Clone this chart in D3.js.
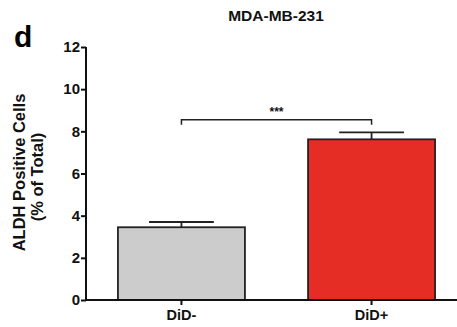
<!DOCTYPE html>
<html>
<head>
<meta charset="utf-8">
<script src="https://cdn.jsdelivr.net/npm/d3@7"></script>
<style>
  body { margin: 0; background: #fff; }
  svg { font-family: "Liberation Sans", Arial, sans-serif; font-weight: bold; }
  .axis text { font-size: 15px; font-weight: bold; fill: #111; }
  .axis path, .axis line { stroke: #111; stroke-width: 2; }
</style>
</head>
<body>
<svg id="chart" width="457" height="327"></svg>
<script>
// data
const groups = ['DiD-', 'DiD+'];
const means = [3.45, 7.62];
const errors = [0.25, 0.33];
const barColors = ['#cccccc', '#e52d25'];
const yTicks = [0, 2, 4, 6, 8, 10, 12];
const sigLevel = 8.55;
const sigLabel = '***';

const svg = d3.select('#chart');
const plotLeft = 86, axisRight = 457, plotTop = 47, plotBottom = 300;

const y = d3.scaleLinear().domain([0, 12]).range([plotBottom, plotTop]);
const x = d3.scaleBand()
    .domain(groups)
    .range([plotLeft, 467])
    .paddingInner(0.332)
    .paddingOuter(0.168);

// bars
svg.selectAll('.bar')
    .data(groups)
  .join('rect')
    .attr('class', 'bar')
    .attr('x', d => x(d))
    .attr('width', x.bandwidth())
    .attr('y', (d, i) => y(means[i]))
    .attr('height', (d, i) => y(0) - y(means[i]))
    .attr('fill', (d, i) => barColors[i])
    .attr('stroke', '#222')
    .attr('stroke-width', 1.8);

// error bars (upper only)
const cx = d => x(d) + x.bandwidth() / 2;
const capHalf = x.bandwidth() * 0.255;
svg.selectAll('.err')
    .data(groups)
  .join('line')
    .attr('class', 'err')
    .attr('x1', cx).attr('x2', cx)
    .attr('y1', (d, i) => y(means[i]))
    .attr('y2', (d, i) => y(means[i] + errors[i]))
    .attr('stroke', '#222').attr('stroke-width', 1.8);
svg.selectAll('.cap')
    .data(groups)
  .join('line')
    .attr('class', 'cap')
    .attr('x1', d => cx(d) - capHalf).attr('x2', d => cx(d) + capHalf)
    .attr('y1', (d, i) => y(means[i] + errors[i]))
    .attr('y2', (d, i) => y(means[i] + errors[i]))
    .attr('stroke', '#222').attr('stroke-width', 1.8);

// significance bracket
const sy = y(sigLevel);
svg.append('path')
    .attr('d', `M${cx(groups[0])},${sy + 5}V${sy}H${cx(groups[1])}V${sy + 5}`)
    .attr('fill', 'none').attr('stroke', '#222').attr('stroke-width', 1.5);
svg.append('text')
    .attr('x', (cx(groups[0]) + cx(groups[1])) / 2)
    .attr('y', sy - 4)
    .attr('text-anchor', 'middle')
    .style('font-size', '12px')
    .attr('fill', '#111')
    .text(sigLabel);

// y axis
const yAxisG = svg.append('g')
    .attr('class', 'axis')
    .attr('transform', `translate(${plotLeft},0)`)
    .call(d3.axisLeft(y).tickValues(yTicks).tickSize(5).tickSizeOuter(0).tickPadding(1));
yAxisG.select('.domain').attr('d', `M0,${plotTop}V${plotBottom}`);

// x axis
const xAxisG = svg.append('g')
    .attr('class', 'axis')
    .attr('transform', `translate(0,${plotBottom})`)
    .call(d3.axisBottom(x).tickSize(5).tickSizeOuter(0).tickPadding(5));
xAxisG.select('.domain').attr('d', `M${plotLeft},0H${axisRight}`);
xAxisG.selectAll('text').style('font-size', '14.5px');

// y label
svg.append('text')
    .attr('transform', `translate(25,172.5) rotate(-90)`)
    .attr('text-anchor', 'middle')
    .style('font-size', '16.5px')
    .attr('fill', '#111')
    .text('ALDH Positive Cells');
svg.append('text')
    .attr('transform', `translate(43,177) rotate(-90)`)
    .attr('text-anchor', 'middle')
    .style('font-size', '16.5px')
    .attr('fill', '#111')
    .text('(% of Total)');

// title
svg.append('text')
    .attr('x', 276).attr('y', 21)
    .attr('text-anchor', 'middle')
    .style('font-size', '15.5px')
    .attr('fill', '#111')
    .text('MDA-MB-231');

// panel letter
svg.append('text')
    .attr('x', 14).attr('y', 47)
    .style('font-size', '30px')
    .attr('fill', '#000')
    .text('d');
</script>
</body>
</html>
